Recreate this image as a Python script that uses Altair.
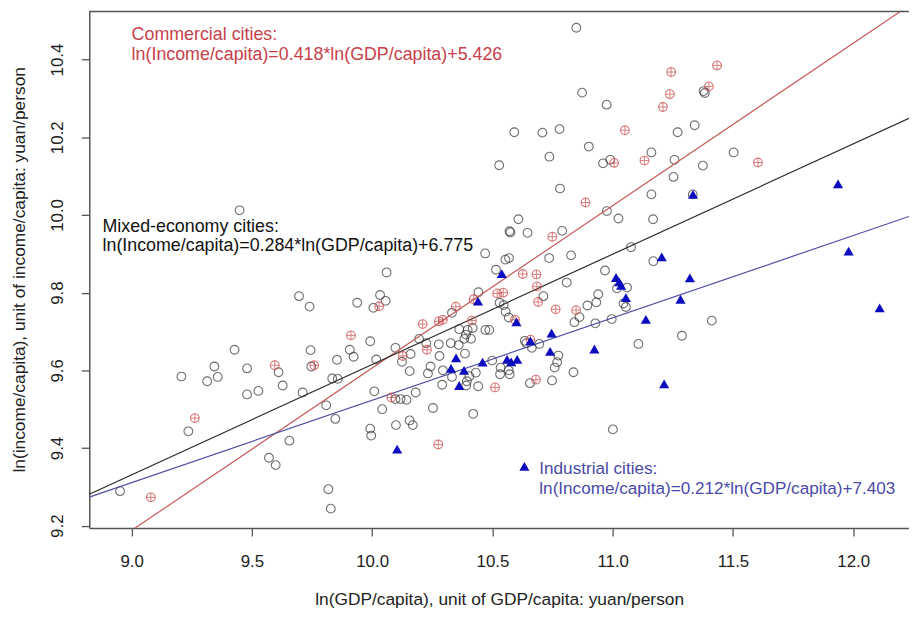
import altair as alt
import pandas as pd

# ---------------- data ----------------
mixed_x = [8.952, 9.207, 9.236, 9.314, 9.344, 9.358, 9.428, 9.449, 9.480, 9.480,
           9.527, 9.571, 9.599, 9.611, 9.628, 9.656, 9.696, 9.711, 9.740, 9.744,
           9.747, 9.809, 9.818, 9.828, 9.834, 9.857, 9.847, 9.854, 9.907, 9.923,
           9.938, 9.992, 9.992, 9.996, 10.005, 10.009, 10.017, 10.033, 10.056, 10.060,
           10.042, 10.097, 10.097, 10.118, 10.143, 10.099, 10.124, 10.160, 10.156, 10.156,
           10.169, 10.181, 10.195, 10.225, 10.243, 10.232, 10.253, 10.277, 10.280, 10.291,
           10.294, 10.332, 10.327, 10.332, 10.360, 10.362, 10.383, 10.390, 10.411, 10.397,
           10.418, 10.442, 10.470, 10.404, 10.431, 10.441, 10.394, 10.391, 10.386, 10.420,
           10.471, 10.487, 10.515, 10.554, 10.569, 10.530, 10.547, 10.555, 10.568, 10.499,
           10.534, 10.568, 10.532, 10.572, 10.528, 10.591, 10.708, 10.779, 10.737, 10.849,
           10.873, 10.975, 10.901, 10.960, 10.990, 11.161, 11.257, 11.270, 11.341, 11.378,
           11.383, 11.375, 11.503, 11.253, 10.781, 11.161, 11.333, 10.608, 10.571, 10.575,
           10.646, 10.790, 10.976, 11.024, 11.168, 11.076, 10.736, 10.827, 10.968, 11.169,
           10.712, 10.809, 10.940, 10.932, 10.895, 11.018, 11.060, 11.045, 11.055, 10.841,
           10.862, 10.928, 10.996, 11.412, 11.288, 11.107, 11.001, 10.635, 10.641, 10.664,
           10.695, 10.774, 10.769, 10.759, 10.748, 10.837, 10.656]
mixed_y = [9.289, 9.584, 9.443, 9.572, 9.610, 9.583, 9.653, 10.012, 9.605, 9.538,
           9.547, 9.375, 9.356, 9.595, 9.561, 9.419, 9.791, 9.543, 9.764, 9.652,
           9.610, 9.510, 9.294, 9.244, 9.579, 9.578, 9.475, 9.627, 9.653, 9.635,
           9.774, 9.675, 9.450, 9.432, 9.761, 9.546, 9.628, 9.794, 9.779, 9.852,
           9.500, 9.658, 9.526, 9.526, 9.524, 9.459, 9.622, 9.642, 9.598, 9.471,
           9.459, 9.543, 9.681, 9.670, 9.610, 9.592, 9.503, 9.667, 9.637, 9.563,
           9.600, 9.748, 9.670, 9.583, 9.665, 9.706, 9.681, 9.692, 9.681, 9.704,
           9.709, 9.801, 9.901, 9.585, 9.594, 9.559, 9.572, 9.561, 9.643, 9.488,
           9.704, 9.704, 9.859, 9.885, 9.889, 9.774, 9.768, 9.751, 9.736, 9.625,
           9.607, 9.600, 9.590, 9.590, 10.128, 10.213, 10.212, 10.221, 10.150, 10.482,
           10.315, 10.284, 10.176, 10.133, 10.142, 10.161, 10.142, 10.213, 10.231, 10.319,
           10.314, 10.127, 10.161, 10.098, 10.068, 10.053, 10.053, 9.989, 9.958, 9.955,
           9.954, 9.959, 10.010, 9.991, 9.989, 9.917, 9.889, 9.896, 9.857, 9.881,
           9.791, 9.826, 9.796, 9.775, 9.767, 9.811, 9.813, 9.772, 9.763, 9.724,
           9.737, 9.721, 9.732, 9.728, 9.689, 9.668, 9.448, 9.676, 9.670, 9.658,
           9.668, 9.638, 9.621, 9.607, 9.574, 9.595, 9.567]

commercial_x = [9.080, 9.263, 9.595, 9.759, 9.912, 10.029, 10.080, 10.127, 10.210, 10.228,
                10.275, 10.277, 10.294, 10.348, 10.415, 10.422, 10.511, 10.520, 10.545, 10.594,
                10.626, 10.683, 10.685, 10.690, 10.763, 10.848, 10.681, 10.658, 10.749, 10.887,
                11.006, 11.132, 11.051, 11.209, 11.238, 11.243, 11.400, 11.434, 11.604]
commercial_y = [9.273, 9.477, 9.613, 9.613, 9.690, 9.765, 9.530, 9.637, 9.719, 9.653,
                9.409, 9.726, 9.730, 9.764, 9.728, 9.783, 9.556, 9.798, 9.800, 9.730,
                9.848, 9.847, 9.816, 9.776, 9.757, 9.755, 9.576, 9.679, 9.944, 10.032,
                10.134, 10.140, 10.218, 10.278, 10.311, 10.368, 10.331, 10.385, 10.135]

industrial_x = [10.104, 10.328, 10.349, 10.382, 10.362, 10.440, 10.459, 10.539, 10.561, 10.578,
                10.603, 10.600, 10.658, 10.746, 10.740, 10.924, 11.014, 11.027, 11.035, 11.055,
                11.138, 11.204, 11.214, 11.282, 11.321, 11.334, 11.937, 11.981, 12.110]
industrial_y = [9.397, 9.605, 9.632, 9.600, 9.561, 9.778, 9.621, 9.849, 9.628, 9.622,
                9.628, 9.725, 9.676, 9.696, 9.649, 9.655, 9.839, 9.828, 9.819, 9.787,
                9.731, 9.892, 9.565, 9.783, 9.838, 10.053, 10.080, 9.907, 9.761]

# fitted lines (slope, intercept) as printed on the chart
fit_groups = ["Commercial", "Mixed", "Industrial"]
fit_slopes = [0.418, 0.284, 0.212]
fit_intercepts = [5.426, 6.775, 7.403]
fit_colors = ["#c45a5a", "#2a2a2a", "#4f4fa3"]

# annotations (upper-left group)
ann_text = ["Commercial cities:",
            "ln(Income/capita)=0.418*ln(GDP/capita)+5.426",
            "Mixed-economy cities:",
            "ln(Income/capita)=0.284*ln(GDP/capita)+6.775"]
ann_x = [9.0, 9.0, 8.879, 8.879]
ann_y = [10.462, 10.411, 9.968, 9.919]
ann_color = ["#c8404a", "#c8404a", "#111111", "#111111"]
# annotation near the lower right (industrial)
ind_text = ["Industrial cities:",
            "ln(Income/capita)=0.212*ln(GDP/capita)+7.403"]
ind_text_x = [10.695, 10.695]
ind_text_y = [9.345, 9.294]
legend_tri_x = [10.633]
legend_tri_y = [9.353]

x_ticks = [9.0, 9.5, 10.0, 10.5, 11.0, 11.5, 12.0]
y_ticks = [9.2, 9.4, 9.6, 9.8, 10.0, 10.2, 10.4]
X_DOMAIN = [8.824, 12.232]
Y_DOMAIN = [9.194, 10.526]

FONT = "Liberation Sans"
W, H = 827, 522

xs = alt.Scale(domain=X_DOMAIN, nice=False, zero=False)
ys = alt.Scale(domain=Y_DOMAIN, nice=False, zero=False)

mixed_df = pd.DataFrame({"x": mixed_x, "y": mixed_y})
comm_df = pd.DataFrame({"x": commercial_x, "y": commercial_y})
ind_df = pd.DataFrame({"x": industrial_x, "y": industrial_y})

rows = []
for g, s, b, c in zip(fit_groups, fit_slopes, fit_intercepts, fit_colors):
    for xv in X_DOMAIN:
        rows.append({"group": g, "x": xv, "y": s * xv + b, "color": c})
fit_df = pd.DataFrame(rows)

ann_df = pd.DataFrame({"x": ann_x, "y": ann_y, "text": ann_text, "color": ann_color})
ind_ann_df = pd.DataFrame({"x": ind_text_x, "y": ind_text_y, "text": ind_text})
tri_df = pd.DataFrame({"x": legend_tri_x, "y": legend_tri_y})

x_axis = alt.Axis(values=x_ticks, format=".1f", grid=False,
                  title="ln(GDP/capita), unit of GDP/capita: yuan/person",
                  domainColor="#555555", domainWidth=1.5,
                  tickColor="#555555", tickSize=8, tickWidth=1.3,
                  labelFont=FONT, labelFontSize=17, labelColor="#222222",
                  labelPadding=26, labelBaseline="middle", labelFlush=False,
                  labelOverlap=False,
                  titleFont=FONT, titleFontSize=17.5, titleFontWeight="normal",
                  titleColor="#222222", titleY=72, titleBaseline="middle")
y_axis = alt.Axis(values=y_ticks, format=".1f", grid=False,
                  title="ln(income/capita), unit of income/capita: yuan/person",
                  domainColor="#555555", domainWidth=1.5,
                  tickColor="#555555", tickSize=8, tickWidth=1.3,
                  labelFont=FONT, labelFontSize=17, labelColor="#222222",
                  labelAngle=270, labelAlign="center", labelBaseline="middle",
                  labelPadding=24, labelFlush=False, labelOverlap=False,
                  titleFont=FONT, titleFontSize=17.5, titleFontWeight="normal",
                  titleColor="#222222", titleAngle=270, titleAlign="center",
                  titleBaseline="middle", titleX=-70, titleY=H / 2)

X = alt.X("x:Q", scale=xs, axis=x_axis)
Y = alt.Y("y:Q", scale=ys, axis=y_axis)

mixed = alt.Chart(mixed_df).mark_point(
    shape="circle", filled=False, size=78, strokeWidth=1.1, color="#333333"
).encode(x=X, y=Y)

comm_circ = alt.Chart(comm_df).mark_point(
    shape="circle", filled=False, size=78, strokeWidth=1.1, color="#cc4a4a"
).encode(x=X, y=Y)

comm_plus = alt.Chart(comm_df).mark_point(
    shape="M -1 0 L 1 0 M 0 -1 L 0 1", filled=False, size=78, strokeWidth=1.0,
    color="#cc4a4a"
).encode(x=X, y=Y)

ind = alt.Chart(ind_df).mark_point(
    shape="triangle-up", filled=True, size=105, color="#0b0bbf", opacity=1
).encode(x=X, y=Y)

fits = alt.Chart(fit_df).mark_line(clip=True, strokeWidth=1.2).encode(
    x=X, y=Y,
    detail="group:N",
    color=alt.Color("color:N", scale=None),
)

ann = alt.Chart(ann_df).mark_text(
    align="left", baseline="middle", font=FONT, fontSize=18
).encode(
    x=X, y=Y,
    text="text:N",
    color=alt.Color("color:N", scale=None),
)

ind_ann = alt.Chart(ind_ann_df).mark_text(
    align="left", baseline="middle", font=FONT, fontSize=17.3, color="#4a4aa8"
).encode(x=X, y=Y, text="text:N")

tri = alt.Chart(tri_df).mark_point(
    shape="triangle-up", filled=True, size=105, color="#0b0bbf", opacity=1
).encode(x=X, y=Y)

top_border = alt.Chart(pd.DataFrame({"k": [0]})).mark_rule(
    color="#555555", strokeWidth=1.5
).encode(x=alt.value(0), x2=alt.value(W), y=alt.value(0.75))

chart = alt.layer(
    mixed, fits, comm_circ, comm_plus, ind, ann, ind_ann, tri, top_border
).properties(
    width=W, height=H,
    autosize=alt.AutoSizeParams(type="none"),
    padding={"left": 82, "top": 0, "right": 0, "bottom": 79},
    background="white",
).configure_view(stroke=None)

chart.save("out.html", embed_options={"renderer": "svg", "actions": False})
